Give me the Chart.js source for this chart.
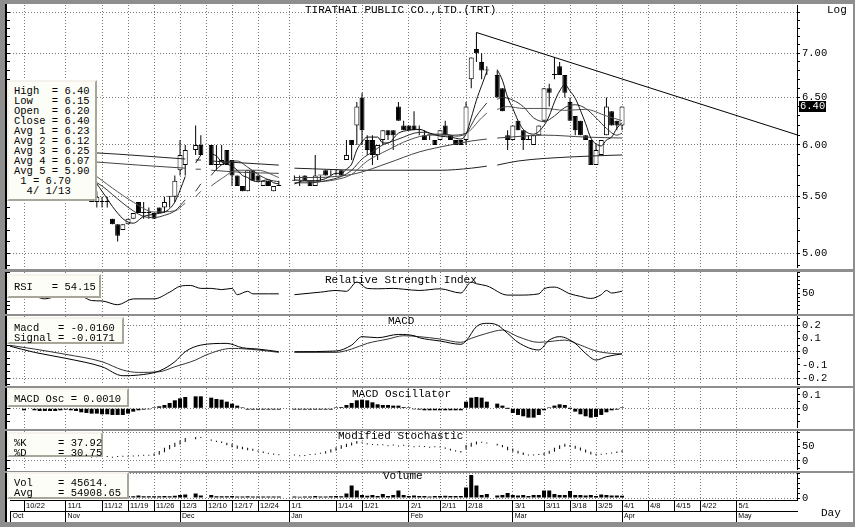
<!DOCTYPE html>
<html>
<head>
<meta charset="utf-8">
<script src="https://cdn.jsdelivr.net/npm/chart.js"></script>
<style>
  body { margin: 0; background: #fff; }
  #frame { position: absolute; left: 0; top: 0; width: 855px; height: 527px; background: #8e8e8e; overflow: hidden;
           font-family: "Liberation Mono", "DejaVu Sans Mono", monospace; color: #000; }
  .pane { position: absolute; left: 5px; width: 846px; background: #fff; border-left: 2px solid #000; }
  canvas { position: absolute; left: 7px; }
  .lbl { position: absolute; font-size: 11px; line-height: 11px; white-space: pre; }
  .info { position: absolute; left: 7px; box-sizing: border-box; background: #fdfdf7; white-space: pre;
          font-size: 10.5px; line-height: 10px; padding: 4px 0 0 5px;
          border-top: 2px solid #f4f2ea; border-left: 2px solid #f4f2ea; border-right: 2px solid #a8a698; border-bottom: 2px solid #a8a698; }
  #tag { position: absolute; left: 799px; background: #000; color: #fff; font-size: 10.5px; line-height: 11px; padding: 0 1px; }
</style>
</head>
<body>
<div id="frame">
  <div class="pane" style="top:4px;height:265px"></div>
  <div class="pane" style="top:272px;height:42px"></div>
  <div class="pane" style="top:316px;height:70px"></div>
  <div class="pane" style="top:388px;height:41px"></div>
  <div class="pane" style="top:431px;height:40px"></div>
  <div class="pane" style="top:473px;height:49px"></div>

  <canvas id="cMain" width="846" height="263" style="top:5px"></canvas>
  <canvas id="cRsi" width="846" height="42" style="top:272px"></canvas>
  <canvas id="cMacd" width="846" height="69" style="top:316px"></canvas>
  <canvas id="cOsc" width="846" height="40" style="top:388px"></canvas>
  <canvas id="cSto" width="846" height="39" style="top:431px"></canvas>
  <canvas id="cVol" width="846" height="49" style="top:473px"></canvas>

  <div class="lbl" style="left:305px;top:5px">TIRATHAI PUBLIC CO.,LTD.(TRT)</div>
  <div class="lbl" style="left:827px;top:5px">Log</div>
  <div class="lbl" style="left:325px;top:275px">Relative Strength Index</div>
  <div class="lbl" style="left:388px;top:316px">MACD</div>
  <div class="lbl" style="left:352px;top:389px">MACD Oscillator</div>
  <div class="lbl" style="left:338px;top:431px">Modified Stochastic</div>
  <div class="lbl" style="left:383px;top:471px">Volume</div>
  <div class="lbl" style="left:821px;top:508px">Day</div>
  <div id="tag">6.40</div>

  <div class="info" style="top:80px;width:90px;height:121px">High  = 6.40
Low   = 6.15
Open  = 6.20
Close = 6.40
Avg 1 = 6.23
Avg 2 = 6.12
Avg 3 = 6.25
Avg 4 = 6.07
Avg 5 = 5.90
 1 = 6.70
  4/ 1/13</div>
  <div class="info" style="top:274px;width:94px;height:24px;padding-top:6px">RSI   = 54.15</div>
  <div class="info" style="top:317px;width:117px;height:27px">Macd   = -0.0160
Signal = -0.0171</div>
  <div class="info" style="top:388px;width:122px;height:19px">MACD Osc = 0.0010</div>
  <div class="info" style="top:432px;width:96px;height:25px">%K     = 37.92
%D     = 30.75</div>
  <div class="info" style="top:472px;width:122px;height:27px">Vol    = 45614.
Avg    = 54908.65</div>
</div>

<script>
// x positions are trading-day numbers counted from 10/22/2012 (holidays skipped in the data)
const X_MIN = -2.7, X_MAX = 148.65;

const dateTickIdx = [0, 8, 15, 20, 25, 30, 35, 40, 45, 51, 60, 65, 74, 80, 85, 94, 100, 105, 110, 115, 120, 125, 130, 137];
const dateTickLbl = ['10/22', '11/1', '11/12', '11/19', '11/26', '12/3', '12/10', '12/17', '12/24', '1/1', '1/14', '1/21',
                     '2/1', '2/11', '2/18', '3/1', '3/11', '3/18', '3/25', '4/1', '4/8', '4/15', '4/22', '5/1'];
const monthTickIdx = [-2.6, 8, 30, 51, 74, 94, 115, 137];
const monthTickLbl = ['Oct', 'Nov', 'Dec', 'Jan', 'Feb', 'Mar', 'Apr', 'May'];

// daily prices
const days = [13,14,15,16,17,18,19,20,21,22,23,24,25,26,27,28,29,30,31,33,34,36,37,38,39,40,41,42,43,44,45,46,47,48,49,
  52,53,54,55,56,57,58,59,60,61,62,63,64,65,66,67,68,69,70,71,72,73,74,75,76,77,78,79,80,81,82,83,84,85,86,87,88,89,
  91,92,93,94,95,96,97,98,99,100,101,102,103,104,105,106,107,108,109,110,111,112,113,114,115];
const openP = [5.50,5.45,5.45,5.45,5.30,5.25,5.20,5.25,5.30,5.45,5.35,5.35,5.35,5.40,5.40,5.50,5.50,5.75,5.80,
  5.95,6.00,
  6.00,5.80,5.80,5.95,5.85,5.70,5.60,5.55,5.75,5.70,5.60,5.65,5.55,5.60,
  5.65,5.65,5.70,5.65,5.60,5.70,5.75,5.75,5.75,5.75,5.85,6.05,6.20,6.50,6.05,6.05,5.90,6.05,6.15,6.15,6.40,6.20,6.20,6.20,6.15,6.10,6.10,6.05,6.05,6.20,6.10,6.05,6.05,6.05,6.70,7.05,6.90,6.80,
  6.75,6.60,6.10,6.05,6.25,6.15,6.05,6.00,6.10,6.25,6.60,6.75,6.85,6.75,6.45,6.30,6.25,6.10,6.05,5.80,5.90,6.10,6.35,6.25,6.20];
const highP = [5.55,5.55,5.50,5.50,5.30,5.25,5.25,5.30,5.35,5.45,5.45,5.40,5.35,5.40,5.50,5.50,5.70,6.05,6.00,
  6.20,6.10,
  6.00,6.00,6.00,5.95,5.85,5.70,5.60,5.75,5.75,5.70,5.65,5.65,5.60,5.65,
  5.70,5.70,5.70,5.65,5.90,5.70,5.75,5.75,5.75,5.75,6.05,6.05,6.45,6.55,6.10,6.10,6.00,6.15,6.15,6.15,6.45,6.25,6.20,6.35,6.20,6.15,6.10,6.05,6.15,6.25,6.10,6.05,6.05,6.45,6.95,7.25,7.00,6.85,
  6.80,6.60,6.15,6.20,6.25,6.15,6.10,6.10,6.20,6.60,6.65,6.95,6.90,6.75,6.50,6.30,6.25,6.10,6.05,6.00,6.05,6.50,6.35,6.25,6.40];
const lowP = [5.45,5.40,5.40,5.40,5.25,5.10,5.20,5.25,5.30,5.35,5.30,5.30,5.30,5.35,5.35,5.40,5.45,5.70,5.70,
  5.90,5.90,
  5.80,5.75,5.80,5.80,5.60,5.60,5.55,5.55,5.65,5.65,5.60,5.60,5.55,5.60,
  5.65,5.60,5.65,5.60,5.60,5.65,5.70,5.70,5.70,5.70,5.85,5.85,6.00,6.00,5.90,5.80,5.85,6.00,6.05,5.95,6.25,6.15,6.15,6.15,6.10,6.05,6.05,6.00,6.05,6.10,6.05,6.00,6.00,6.00,6.60,6.90,6.70,6.75,
  6.50,6.35,5.95,6.05,6.15,5.95,6.05,6.00,6.10,6.25,6.40,6.70,6.75,6.50,6.25,6.10,6.10,6.05,5.80,5.80,5.90,6.10,6.20,6.15,6.15];
const closeP = [5.45,5.50,5.45,5.45,5.25,5.15,5.25,5.30,5.35,5.35,5.35,5.35,5.30,5.35,5.45,5.50,5.65,5.90,5.95,
  6.00,5.90,
  5.80,5.80,5.85,5.80,5.70,5.60,5.55,5.75,5.65,5.65,5.65,5.60,5.60,5.60,
  5.65,5.65,5.65,5.60,5.70,5.70,5.70,5.75,5.75,5.70,5.90,6.00,6.40,6.15,5.95,5.90,6.00,6.15,6.10,6.10,6.25,6.15,6.15,6.15,6.15,6.05,6.10,6.00,6.15,6.10,6.05,6.00,6.00,6.40,6.95,7.00,6.80,6.80,
  6.50,6.35,6.05,6.20,6.15,6.05,6.05,6.10,6.20,6.60,6.55,6.75,6.75,6.55,6.25,6.15,6.10,6.05,5.80,5.95,6.05,6.40,6.20,6.20,6.40];
const volume = [35000,35000,35000,35000,40000,45000,35000,35000,35000,50000,35000,35000,35000,35000,40000,35000,45000,60000,70000,
  90000,50000,
  60000,35000,35000,35000,40000,30000,30000,35000,30000,30000,30000,30000,30000,30000,
  30000,25000,30000,30000,40000,30000,30000,35000,40000,35000,90000,250000,150000,60000,45000,60000,40000,80000,40000,60000,150000,60000,40000,50000,40000,40000,30000,40000,40000,45000,40000,40000,40000,210000,460000,250000,60000,80000,
  50000,60000,100000,60000,50000,60000,40000,60000,60000,150000,150000,80000,60000,60000,140000,60000,60000,50000,60000,40000,70000,60000,50000,50000,45614];

// moving averages (null = holiday break)
const avg1Idx = [13,14,15,16,17,18,19,20,21,23,25,27,28,29,30,31,32,33,34,35,36,37,38,39,40,41,42,43,44,45,46,47,48,49,50,52,54,56,58,60,
  61,62,63,64,65,66,67,68,69,70,72,74,76,78,80,82,84,85,86,87,88,89,90,91,92,93,94,95,96,98,100,101,102,103,104,105,106,107,108,109,110,111,112,113,114,115];
const avg1Val = [5.68,5.62,5.55,5.48,5.41,5.35,5.30,5.27,5.26,5.32,5.34,5.36,5.39,5.45,5.56,5.69,null,5.82,5.90,null,
  5.91,5.89,5.83,5.81,5.79,5.75,5.70,5.68,5.65,5.64,5.65,5.66,5.63,5.62,null,5.62,5.65,5.65,5.67,5.72,
  5.72,5.76,5.81,5.95,6.03,6.08,6.08,6.08,6.02,6.02,6.12,6.15,6.16,6.12,6.09,6.08,6.06,6.11,6.28,6.47,
  6.63,6.79,null,6.81,6.69,6.50,6.38,6.25,6.16,6.11,6.20,6.30,6.45,6.57,6.64,6.57,6.49,6.36,6.22,6.07,
  6.01,5.99,6.05,6.08,6.17,6.23];
const avg2Idx = [10,13,15,17,19,21,23,25,27,29,31,32,33,34,35,36,37,39,41,43,45,47,49,50,52,55,58,61,63,65,
  67,69,71,73,75,77,79,81,83,85,87,89,90,91,92,94,96,98,100,102,104,106,108,110,112,114,115];
const avg2Val = [5.75,5.66,5.60,5.52,5.44,5.37,5.32,5.31,5.33,5.37,5.47,null,5.55,5.62,null,5.70,5.76,5.83,5.84,5.78,
  5.71,5.66,5.64,null,5.63,5.63,5.65,5.69,5.75,5.86,5.93,6.00,6.04,6.08,6.12,6.13,6.11,6.11,6.09,6.12,
  6.30,6.44,null,6.48,6.50,6.47,6.40,6.28,6.24,6.30,6.39,6.42,6.38,6.28,6.17,6.10,6.12];
const avg3Idx = [5,10,13,17,21,25,29,31,32,33,34,35,36,38,41,45,49,50,52,56,60,63,66,70,74,78,82,85,88,89,90,91,93,96,100,104,108,112,115];
const avg3Val = [5.85,5.78,5.72,5.58,5.45,5.36,5.37,5.44,null,5.50,5.55,null,5.60,5.67,5.75,5.75,5.68,null,5.66,5.64,
  5.66,5.71,5.84,5.95,6.05,6.10,6.10,6.12,6.28,6.33,null,6.37,6.40,6.38,6.38,6.36,6.37,6.30,6.25];
const avg4Idx = [-3,5,14,22,31,32,33,34,35,36,42,49,50,52,56,60,64,70,76,82,86,89,90,91,96,100,108,115];
const avg4Val = [5.88,5.86,5.83,5.80,5.77,null,5.76,5.76,null,5.75,5.73,5.72,null,5.68,5.68,5.69,5.72,5.82,5.93,6.00,
  6.04,6.06,null,6.07,6.09,6.10,6.08,6.07];
const avg5Idx = [-3,14,31,32,33,34,35,36,49,50,52,66,80,86,89,90,91,95,105,115];
const avg5Val = [5.95,5.92,5.86,null,5.85,5.85,null,5.84,5.80,null,5.77,5.75,5.75,5.77,5.79,null,5.80,5.84,5.88,5.90];

// trend line drawn on the chart (two anchor points)
const trendIdx = [87, 150];
const trendVal = [7.25, 6.08];

// indicators
const rsiIdx = [-2,2,4,7,11,13,15,18,21,25,28,30,32,34,36,38,40,41,43,44,47,49,50,52,57,60,62,64,66,68,
  71,73,76,80,84,86,87,89,93,95,99,100,102,105,107,109,111,112,113,115];
const rsiVal = [44,42,36,44,42,32,31,22,36,36,52,66,68,61,61,58,61,46,54,48,48,48,null,46,52,56,54,76,61,60,
  61,59,56,60,50,76,72,67,45,45,48,60,64,48,42,37,46,56,50,54.15];

const macdIdx = [-3,2,8,15,19,22,26,29,31,34,39,42,45,49,50,52,60,63,65,68,72,75,76,80,84,85,87,89,91,93,95,99,101,103,106,108,110,112,115];
const macdVal = [0.045,-0.005,-0.05,-0.114,-0.182,-0.177,-0.146,-0.076,0,0.05,0.063,0.03,0.02,0,null,0,0.005,0.05,0.114,0.106,
  0.131,0.121,0.106,0.081,0.056,0.081,0.19,0.215,0.202,0.139,0.071,0.013,0.088,0.114,0.063,-0.013,-0.063,-0.038,-0.016];
const signalIdx = [-3,2,8,15,19,22,26,29,33,35,40,45,49,50,52,60,63,66,70,73,76,80,84,86,89,92,95,99,102,104,107,110,113,115];
const signalVal = [0.05,0.02,-0.02,-0.076,-0.139,-0.157,-0.152,-0.114,-0.063,-0.025,0.025,0.013,-0.005,null,-0.005,-0.005,0.02,0.063,0.096,0.121,
  0.114,0.096,0.071,0.101,0.139,0.164,0.114,0.071,0.081,0.088,0.05,0.005,-0.013,-0.0171];

const oscIdx = [0,2,3,4,5,6,7,8,9,10,11,12,13,14,15,16,17,18,19,20,21,22,23,24,25,26,27,28,29,30,31,33,34,
  36,37,38,39,40,41,42,43,44,45,46,47,48,49,
  52,53,54,55,56,57,58,59,60,61,62,63,64,65,66,67,68,69,70,71,72,73,74,75,76,77,78,79,80,81,82,83,84,85,86,87,88,89,
  91,92,93,94,95,96,97,98,99,100,101,102,103,104,105,106,107,108,109,110,111,112,113,114,115];
const oscVal = [-0.015,-0.015,-0.02,-0.02,-0.02,-0.02,-0.015,-0.01,-0.015,-0.02,-0.03,-0.035,-0.04,-0.04,-0.045,-0.045,-0.05,-0.05,-0.05,-0.04,
  -0.025,-0.015,-0.01,-0.005,0.005,0.015,0.025,0.04,0.06,0.075,0.085,0.09,0.09,
  0.08,0.07,0.065,0.05,0.035,0.02,0.005,-0.01,-0.01,-0.01,-0.01,-0.01,-0.01,-0.01,
  -0.01,-0.01,-0.01,-0.01,-0.01,-0.01,-0.01,-0.01,0.005,0.01,0.025,0.04,0.06,0.065,0.06,0.045,0.03,0.025,0.025,0.02,0.02,0.01,0.005,-0.005,-0.01,
  -0.015,-0.015,-0.015,-0.015,-0.015,-0.015,-0.015,-0.015,0.05,0.08,0.085,0.08,0.05,
  0.035,0.02,0,-0.035,-0.05,-0.06,-0.07,-0.07,-0.05,-0.015,0.005,0.02,0.03,0.025,0,-0.025,-0.045,-0.06,-0.07,-0.065,-0.05,-0.03,-0.015,-0.01,0.001];

const stochK = [14,14,15,16,15,14,16,17,18,19,19,20,26,35,46,56,64,72,80,
  84,80,
  71,66,63,55,48,43,41,38,36,32,28,25,22,20,
  19,20,21,22,25,29,34,41,48,55,60,65,70,64,58,56,55,55,55,54,54,53,52,52,50,49,50,48,47,43,37,33,30,56,64,68,64,61,
  54,48,38,32,26,21,19,19,23,29,36,46,55,60,50,43,37,30,23,20,22,26,29,33,37.92];
const stochD = [12,13,14,14,15,15,15,15,16,17,18,18,18,22,31,41,49,58,66,
  76,82,
  75,71,68,64,60,54,50,46,43,37,33,29,26,23,
  20,20,21,21,22,25,26,30,36,43,49,54,60,66,62,59,57,56,55,55,54,54,53,52,51,50,50,49,48,47,43,38,35,40,50,58,65,63,
  60,56,50,44,36,30,23,21,21,20,25,32,42,50,56,53,47,40,32,25,23,24,26,28,30.75];

// axis tick values and labels
const priceLabels = [5, 5.5, 6, 6.5, 7];
const priceGrid = [5, 5.5, 6, 6.5, 7, 7.5];
const priceTicks = [];
for (let v = 49; v <= 75; v++) priceTicks.push(v / 10);
const rsiTicks = [0, 10, 20, 30, 40, 50, 60, 70, 80, 90, 100];
const macdTicks = [-0.25, -0.2, -0.15, -0.1, -0.05, 0, 0.05, 0.1, 0.15, 0.2, 0.25];
const macdLabels = [0.2, 0.1, 0, -0.1, -0.2];
const oscTicks = [-0.15, -0.1, -0.05, 0, 0.05, 0.1, 0.15];
const stoTicks = [-25, 0, 25, 50, 75, 100];
const volTicks = [0, 100000, 200000, 300000, 400000, 500000];

const GRID = '#7a7a7a';
const DOT = [1, 2];

Chart.defaults.font.family = '"Liberation Mono", monospace';
Chart.defaults.font.size = 10.5;
Chart.defaults.color = '#000';
Chart.defaults.animation = false;
Chart.defaults.responsive = false;
Chart.defaults.plugins.legend.display = false;
Chart.defaults.plugins.tooltip.enabled = false;

const near = (list, v) => list.some(t => Math.abs(t - v) < 1e-9);
const pts = (xs, ys) => xs.map((x, k) => ({ x: x, y: ys[k] }));

function xHidden() {
  return {
    type: 'linear', min: X_MIN, max: X_MAX, offset: false,
    afterBuildTicks: s => { s.ticks = dateTickIdx.map(v => ({ value: v })); },
    afterFit: s => { s.height = 0; s.paddingLeft = 0; s.paddingRight = 0; },
    ticks: { display: false },
    grid: { color: GRID, drawTicks: false, offset: false },
    border: { display: false, dash: DOT }
  };
}

function yRight(cfg) {
  return {
    type: cfg.type || 'linear', position: 'right', min: cfg.min, max: cfg.max,
    afterFit: s => { s.width = 56; s.paddingTop = 0; s.paddingBottom = 0; },
    afterBuildTicks: s => { s.ticks = cfg.ticks.map(v => ({ value: v })); },
    ticks: {
      autoSkip: false, padding: 2,
      callback: v => near(cfg.labels, v) ? cfg.fmt(v) : ''
    },
    grid: {
      color: c => (c.tick && near(cfg.grid, c.tick.value)) ? GRID : 'rgba(0,0,0,0)',
      tickColor: '#000', tickLength: 3, tickBorderDash: []
    },
    border: { display: true, color: '#000', dash: DOT }
  };
}

function yLeft(cfg) {
  return {
    type: cfg.type || 'linear', position: 'left', min: cfg.min, max: cfg.max,
    afterFit: s => { s.width = 3; s.paddingTop = 0; s.paddingBottom = 0; },
    afterBuildTicks: s => { s.ticks = cfg.ticks.map(v => ({ value: v })); },
    ticks: { display: false },
    grid: { drawOnChartArea: false, tickColor: '#000', tickLength: 3 },
    border: { display: false }
  };
}

function lineSet(data, color) {
  return { type: 'line', data: data, borderColor: color, borderWidth: 1, pointRadius: 0,
           tension: 0.4, cubicInterpolationMode: 'monotone', xAxisID: 'x', yAxisID: 'y', order: 0 };
}

// ---------- price panel ----------
const mainCfg = { type: 'logarithmic', min: 4.878, max: 7.593, ticks: priceTicks, labels: priceLabels, grid: priceGrid, fmt: v => v.toFixed(2) };
const mainChart = new Chart(document.getElementById('cMain'), {
  type: 'bar',
  data: {
    datasets: [
      Object.assign(lineSet(pts(trendIdx, trendVal), '#000'), { tension: 0, cubicInterpolationMode: 'default' }),
      lineSet(pts(avg1Idx, avg1Val), '#111'),
      lineSet(pts(avg2Idx, avg2Val), '#333'),
      lineSet(pts(avg3Idx, avg3Val), '#555'),
      lineSet(pts(avg4Idx, avg4Val), '#444'),
      lineSet(pts(avg5Idx, avg5Val), '#222'),
      {
        data: days.map((d, k) => ({ x: d, y: [Math.min(openP[k], closeP[k]), Math.max(openP[k], closeP[k])] })),
        backgroundColor: days.map((d, k) => closeP[k] >= openP[k] ? '#fff' : '#000'),
        borderColor: '#000', borderWidth: 1, borderSkipped: false, barThickness: 5, minBarLength: 1,
        grouped: false, inflateAmount: 0, xAxisID: 'x', yAxisID: 'y', order: 1
      },
      {
        data: days.map((d, k) => ({ x: d, y: [lowP[k], highP[k]] })),
        backgroundColor: '#000', borderWidth: 0, barThickness: 1, grouped: false, inflateAmount: 0,
        xAxisID: 'x', yAxisID: 'y', order: 2
      }
    ]
  },
  options: {
    scales: { x: xHidden(), y: yRight(mainCfg), yl: yLeft(mainCfg) }
  }
});

const tag = document.getElementById('tag');
tag.style.top = (5 + mainChart.scales.y.getPixelForValue(closeP[closeP.length - 1]) - 6) + 'px';

// ---------- RSI ----------
const rsiCfg = { min: 0, max: 100, ticks: rsiTicks, labels: [50], grid: [], fmt: v => String(v) };
new Chart(document.getElementById('cRsi'), {
  type: 'line',
  data: { datasets: [Object.assign(lineSet(pts(rsiIdx, rsiVal), '#000'), { tension: 0 })] },
  options: { scales: { x: xHidden(), y: yRight(rsiCfg), yl: yLeft(rsiCfg) } }
});

// ---------- MACD ----------
const macdCfg = { min: -0.2523, max: 0.2705, ticks: macdTicks, labels: macdLabels, grid: [0.2, 0, -0.2], fmt: v => String(Math.round(v * 10) / 10) };
new Chart(document.getElementById('cMacd'), {
  type: 'line',
  data: { datasets: [lineSet(pts(macdIdx, macdVal), '#000'), lineSet(pts(signalIdx, signalVal), '#333')] },
  options: { scales: { x: xHidden(), y: yRight(macdCfg), yl: yLeft(macdCfg) } }
});

// ---------- MACD oscillator ----------
const oscCfg = { min: -0.1481, max: 0.1526, ticks: oscTicks, labels: [0.1, 0], grid: [0], fmt: v => String(Math.round(v * 10) / 10) };
new Chart(document.getElementById('cOsc'), {
  type: 'bar',
  data: { datasets: [{ data: pts(oscIdx, oscVal), backgroundColor: '#000', barThickness: 4, minBarLength: 1,
                       grouped: false, inflateAmount: 0, xAxisID: 'x', yAxisID: 'y' }] },
  options: { scales: { x: xHidden(), y: yRight(oscCfg), yl: yLeft(oscCfg) } }
});

// ---------- Modified stochastic ----------
const stoCfg = { min: -31.5, max: 104.9, ticks: stoTicks, labels: [50, 0], grid: [100, 0], fmt: v => String(v) };
new Chart(document.getElementById('cSto'), {
  type: 'bar',
  data: { datasets: [{ data: days.map((d, k) => ({ x: d, y: [Math.min(stochK[k], stochD[k]), Math.max(stochK[k], stochD[k])] })),
                       backgroundColor: '#000', barThickness: 1, minBarLength: 1, grouped: false, inflateAmount: 0,
                       xAxisID: 'x', yAxisID: 'y' }] },
  options: { scales: { x: xHidden(), y: yRight(stoCfg), yl: yLeft(stoCfg) } }
});

// ---------- Volume + date axis ----------
const volCfg = { min: -40000, max: 500000, ticks: volTicks, labels: [0], grid: [0, 500000], fmt: v => String(v) };
new Chart(document.getElementById('cVol'), {
  type: 'bar',
  data: { datasets: [{ data: pts(days, volume), backgroundColor: '#000', barThickness: 4, minBarLength: 1,
                       grouped: false, inflateAmount: 0, xAxisID: 'x', yAxisID: 'y' }] },
  options: {
    scales: {
      x: {
        type: 'linear', position: 'bottom', weight: 1, min: X_MIN, max: X_MAX, offset: false,
        afterBuildTicks: s => { s.ticks = dateTickIdx.map(v => ({ value: v })); },
        afterFit: s => { s.height = 11; s.paddingLeft = 0; s.paddingRight = 0; },
        ticks: { autoSkip: false, maxRotation: 0, align: 'start', padding: -10,
                 font: { family: '"Liberation Sans", Arial, sans-serif', size: 7.5 },
                 callback: (v, i) => ' ' + dateTickLbl[i] },
        grid: { color: GRID, tickColor: '#000', tickLength: 11, tickBorderDash: [], offset: false },
        border: { display: true, color: '#000', dash: DOT }
      },
      xm: {
        type: 'linear', position: 'bottom', weight: 2, min: X_MIN, max: X_MAX, offset: false,
        afterBuildTicks: s => { s.ticks = monthTickIdx.map(v => ({ value: v })); },
        afterFit: s => { s.height = 11; s.paddingLeft = 0; s.paddingRight = 0; },
        ticks: { autoSkip: false, maxRotation: 0, align: 'start', padding: -10,
                 font: { family: '"Liberation Sans", Arial, sans-serif', size: 7 },
                 callback: (v, i) => ' ' + monthTickLbl[i] },
        grid: { drawOnChartArea: false, tickColor: '#000', tickLength: 11, offset: false },
        border: { display: true, color: '#000' }
      },
      y: yRight(volCfg),
      yl: yLeft(volCfg)
    }
  }
});
</script>
</body>
</html>
